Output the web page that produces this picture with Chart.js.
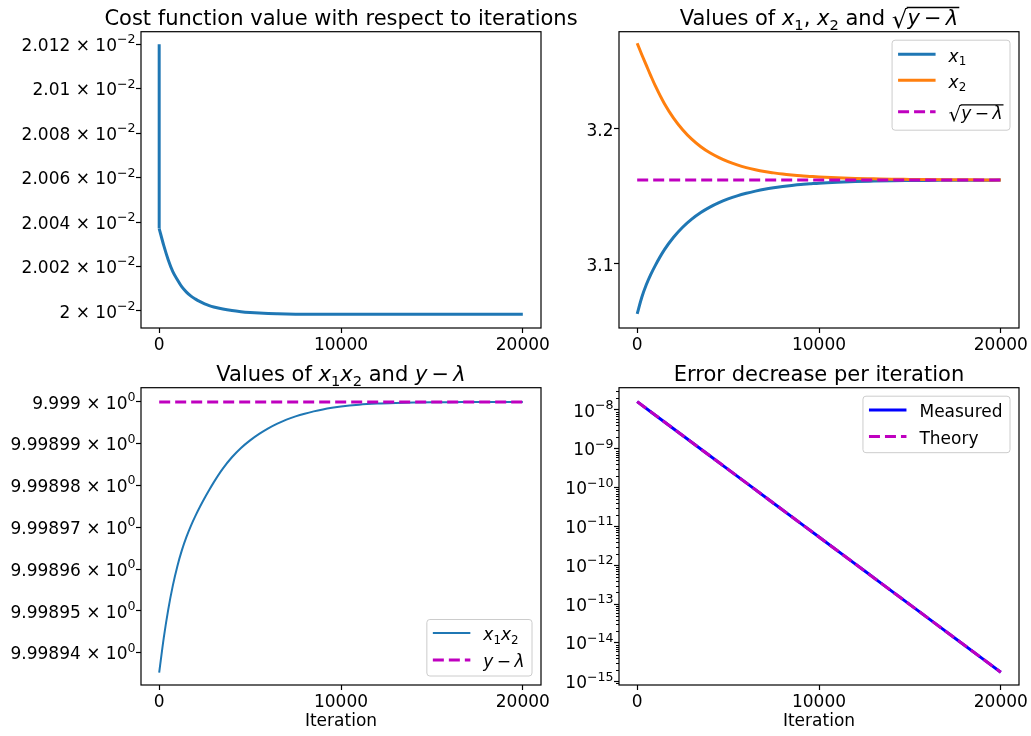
<!DOCTYPE html>
<html lang="en">
<head>
<meta charset="UTF-8">
<title>Convergence plots</title>
<style>
    body {
        margin: 0;
        background: #fff;
        width: 1031px;
        height: 736px;
        position: relative;
        overflow: hidden;
    }
    canvas {
        position: absolute;
    }
</style>
<script src="https://cdn.jsdelivr.net/npm/chart.js"></script>
</head>
<body>

<canvas id="costChart" width="620" height="360" style="left:0;top:0"></canvas>
<canvas id="xChart" width="491" height="360" style="left:540px;top:0"></canvas>
<canvas id="prodChart" width="600" height="376" style="left:0;top:360px"></canvas>
<canvas id="errChart" width="491" height="376" style="left:540px;top:360px"></canvas>

<script>
    // ---- data ----
    const xTicks = [0, 10000, 20000];

    // cost function: one big drop at the first step, then a smooth decay
    const costDropIters = [0, 0];
    const costDropValues = [0.02012000, 0.02003708];
    const costIters = [0, 250, 500, 750, 1000, 1250, 1500, 1750, 2000, 2250, 2500, 2750, 3000,
                       3500, 4000, 4500, 5000, 5500, 6000, 6500, 7000, 7500, 8000, 10000, 12000, 14000, 16000, 18000, 20000];
    const costValues = [0.02003708, 0.02002954, 0.02002298, 0.02001771, 0.02001407, 0.02001081, 0.02000848, 0.02000667,
                        0.02000533, 0.02000420, 0.02000321, 0.02000244, 0.02000182, 0.02000087, 0.02000018, 0.01999969,
                        0.01999933, 0.01999905, 0.01999885, 0.01999872, 0.01999862, 0.01999856, 0.01999853, 0.01999850,
                        0.01999850, 0.01999850, 0.01999850, 0.01999850, 0.01999850];
    const costTicks = [0.02000, 0.02002, 0.02004, 0.02006, 0.02008, 0.02010, 0.02012];
    const costTickLabels = ['2 × 10^−2', '2.002 × 10^−2', '2.004 × 10^−2', '2.006 × 10^−2',
                            '2.008 × 10^−2', '2.01 × 10^−2', '2.012 × 10^−2'];

    // x1, x2 and their common limit
    const iters = [0, 250, 500, 750, 1000, 1500, 2000, 2500, 3000, 3500, 4000, 4500, 5000, 5500, 6000, 6500, 7000, 7500, 8000,
                   8500, 9000, 9500, 10000, 11000, 12000, 13000, 14000, 15000, 16000, 17000, 18000, 19000, 20000];
    const x1Values = [3.0630, 3.0752, 3.0846, 3.0923, 3.0990, 3.1106, 3.1198, 3.1272, 3.1332, 3.1381, 3.1421, 3.1454,
                      3.1482, 3.1505, 3.1524, 3.1540, 3.1554, 3.1565, 3.1574, 3.1582, 3.1589, 3.1594, 3.1599,
                      3.1606, 3.1611, 3.1614, 3.16165, 3.1618, 3.16193, 3.1620, 3.16207, 3.1621, 3.16214];
    const x2Values = [3.2635, 3.2552, 3.2473, 3.2394, 3.2319, 3.2187, 3.2081, 3.1995, 3.1925, 3.1869, 3.1824, 3.1788,
                      3.1758, 3.1734, 3.1714, 3.1698, 3.1685, 3.1675, 3.1666, 3.1659, 3.1653, 3.1649, 3.1645,
                      3.1639, 3.1634, 3.1631, 3.1628, 3.16265, 3.1625, 3.1624, 3.16235, 3.1623, 3.16227];
    const limitIters = [0, 20000];
    const sqrtValues = [3.1622, 3.1622];
    const xTicksY = [3.1, 3.2];
    const xTickLabelsY = ['3.1', '3.2'];

    // x1 * x2 against y - lambda
    const prodIters = [0, 250, 500, 750, 1000, 1250, 1500, 1750, 2000, 2250, 2500, 2750, 3000, 3500, 4000, 4500, 5000,
                       5500, 6000, 6500, 7000, 7500, 8000, 8500, 9000, 9500, 10000, 11000, 12000, 13000, 14000, 15000,
                       16000, 17000, 18000, 19000, 20000];
    const prodValues = [9.99893525, 9.99894350, 9.99895038, 9.99895606, 9.99896072, 9.99896455, 9.99896772, 9.99897042,
                        9.99897280, 9.99897497, 9.99897701, 9.99897893, 9.99898076, 9.99898404, 9.99898676, 9.99898899,
                        9.99899081, 9.99899236, 9.99899369, 9.99899482, 9.99899577, 9.99899654, 9.99899719, 9.99899774,
                        9.99899820, 9.99899859, 9.99899892, 9.99899935, 9.99899960, 9.99899975, 9.99899985, 9.99899991,
                        9.99899994, 9.99899996, 9.99899998, 9.99899999, 9.99900000];
    const targetValues = [9.999, 9.999];
    const prodTicks = [9.99894, 9.99895, 9.99896, 9.99897, 9.99898, 9.99899, 9.99900];
    const prodTickLabels = ['9.99894 × 10^0', '9.99895 × 10^0', '9.99896 × 10^0', '9.99897 × 10^0',
                            '9.99898 × 10^0', '9.99899 × 10^0', '9.999 × 10^0'];

    // error per iteration, log scale
    const errIters = [0, 2500, 5000, 7500, 10000, 12500, 15000, 17500, 20000];
    const measuredValues = [1.64e-8, 2.20e-9, 2.96e-10, 3.97e-11, 5.35e-12, 7.19e-13, 9.66e-14, 1.30e-14, 1.75e-15];
    const theoryValues = [1.64e-8, 2.20e-9, 2.96e-10, 3.97e-11, 5.35e-12, 7.19e-13, 9.66e-14, 1.30e-14, 1.75e-15];
    const errTicks = [1e-15, 1e-14, 1e-13, 1e-12, 1e-11, 1e-10, 1e-9, 1e-8];
    const errTickLabels = ['10^−15', '10^−14', '10^−13', '10^−12', '10^−11', '10^−10', '10^−9', '10^−8'];

    const BLUE = '#1f77b4', ORANGE = '#ff7f0e', MAGENTA = '#bf00bf', PURE_BLUE = '#0000ff';
    const FONT = '"DejaVu Sans", sans-serif';
    const TICK_SIZE = 17;

    Chart.defaults.font.family = FONT;
    Chart.defaults.font.size = TICK_SIZE;
    Chart.defaults.color = '#000';

    const pts = (xs, ys) => xs.map((x, i) => ({x: x, y: ys[i]}));

    // ---- rich text (italic, subscripts, superscripts, square root) ----
    const sub = t => ({t: t, sub: true});
    const it = t => ({t: t, it: true});
    function segFont(s, size) {
        const sz = s.sub ? size * 0.7 : (s.sup ? size * 0.74 : (s.rad ? size * 1.18 : size));
        return (s.it ? 'oblique ' : '') + sz + 'px ' + FONT;
    }
    function richWidth(ctx, segs, size) {
        let w = 0;
        segs.forEach(s => {
            ctx.font = segFont(s, size);
            w += ctx.measureText(s.rad ? '√' : s.t).width;
        });
        return w;
    }
    function drawRich(ctx, segs, x, y, size, align) {
        const w = richWidth(ctx, segs, size);
        let cx = align === 'center' ? x - w / 2 : (align === 'right' ? x - w : x);
        let ovStart = null, ovEnd = null, ovY = null;
        ctx.fillStyle = '#000';
        ctx.textBaseline = 'alphabetic';
        ctx.textAlign = 'left';
        segs.forEach(s => {
            ctx.font = segFont(s, size);
            if (s.rad) {
                const m = ctx.measureText('√');
                const by = y + size * 0.12;
                ctx.fillText('√', cx, by);
                ovY = by - m.actualBoundingBoxAscent + 0.8;
                ovStart = cx + m.width - 0.8;
                cx += m.width;
                return;
            }
            const m = ctx.measureText(s.t);
            const dy = s.sub ? size * 0.22 : (s.sup ? -size * 0.45 : 0);
            ctx.fillText(s.t, cx, y + dy);
            cx += m.width;
            if (s.ov) ovEnd = cx + 1;
        });
        if (ovStart !== null) {
            ctx.beginPath();
            ctx.lineWidth = size * 0.065;
            ctx.strokeStyle = '#000';
            ctx.moveTo(ovStart, ovY);
            ctx.lineTo(ovEnd, ovY);
            ctx.stroke();
        }
    }
    // '2.012 × 10^−2' -> main text plus superscript
    function tickSegs(label) {
        const parts = label.split('^');
        const segs = [{t: parts[0]}];
        if (parts.length > 1) segs.push({t: parts[1], sup: true});
        return segs;
    }
    const radical = [{rad: true}, {t: 'y', it: true, ov: true}, {t: '\u2009\u2212\u2009', ov: true}, {t: 'λ', it: true, ov: true}];

    // ---- titles, tick labels and legends per chart ----
    const deco = {
        costChart: {
            title: [{t: 'Cost function value with respect to iterations'}],
            yTicks: costTicks, yLabels: costTickLabels
        },
        xChart: {
            title: [{t: 'Values of '}, it('x'), sub('1'), {t: ', '}, it('x'), sub('2'), {t: ' and '}].concat(radical),
            yTicks: xTicksY, yLabels: xTickLabelsY,
            legend: {
                loc: 'upper right', height: 90, centers: [14, 40, 71.5],
                items: [
                    {label: [it('x'), sub('1')], color: BLUE, width: 3},
                    {label: [it('x'), sub('2')], color: ORANGE, width: 3},
                    {label: radical, color: MAGENTA, width: 3, dash: [11, 5]}
                ]
            }
        },
        prodChart: {
            title: [{t: 'Values of '}, it('x'), sub('1'), it('x'), sub('2'), {t: ' and '}, it('y'), {t: '\u2009\u2212\u2009'}, it('λ')],
            yTicks: prodTicks, yLabels: prodTickLabels,
            legend: {
                loc: 'lower right', height: 56.5, centers: [13.5, 40.5],
                items: [
                    {label: [it('x'), sub('1'), it('x'), sub('2')], color: BLUE, width: 2},
                    {label: [it('y'), {t: '\u2009\u2212\u2009'}, it('λ')], color: MAGENTA, width: 3, dash: [11, 5]}
                ]
            }
        },
        errChart: {
            title: [{t: 'Error decrease per iteration'}],
            yTicks: errTicks, yLabels: errTickLabels,
            legend: {
                loc: 'upper right', height: 56.5, centers: [13.7, 40.4],
                items: [
                    {label: [{t: 'Measured'}], color: PURE_BLUE, width: 3},
                    {label: [{t: 'Theory'}], color: MAGENTA, width: 3, dash: [11, 5]}
                ]
            }
        }
    };

    const decoPlugin = {
        id: 'deco',
        afterDraw(chart) {
            const d = deco[chart.canvas.id];
            if (!d) return;
            const ctx = chart.ctx;
            const a = chart.chartArea;
            const ys = chart.scales.y;
            ctx.save();

            // minor ticks on the log axis
            if (ys.type === 'logarithmic') {
                ctx.strokeStyle = '#000';
                ctx.lineWidth = 1;
                for (let e = -16; e <= -7; e++) {
                    for (let k = 2; k <= 9; k++) {
                        const v = k * Math.pow(10, e);
                        if (v < ys.min || v > ys.max) continue;
                        const py = Math.round(ys.getPixelForValue(v)) + 0.5;
                        ctx.beginPath();
                        ctx.moveTo(a.left - 3, py);
                        ctx.lineTo(a.left, py);
                        ctx.stroke();
                    }
                }
            }

            // y tick labels with real superscripts
            d.yTicks.forEach((v, i) => {
                const py = ys.getPixelForValue(v);
                drawRich(ctx, tickSegs(d.yLabels[i]), a.left - 5.5, py + 6.6, TICK_SIZE, 'right');
            });

            // frame
            ctx.strokeStyle = '#000';
            ctx.lineWidth = 1.2;
            ctx.strokeRect(a.left, a.top, a.right - a.left, a.bottom - a.top);

            // title
            drawRich(ctx, d.title, (a.left + a.right) / 2, a.top - 6.5, 21, 'center');

            // legend
            const lg = d.legend;
            if (lg) {
                let tw = 0;
                lg.items.forEach(item => { tw = Math.max(tw, richWidth(ctx, item.label, TICK_SIZE)); });
                const bw = 56.5 + tw + 7.5;
                const bx = a.right - 9 - bw;
                const by = lg.loc === 'upper right' ? a.top + 8.5 : a.bottom - 9 - lg.height;
                ctx.beginPath();
                ctx.roundRect(bx, by, bw, lg.height, 3);
                ctx.fillStyle = 'rgba(255,255,255,0.8)';
                ctx.fill();
                ctx.strokeStyle = '#cccccc';
                ctx.lineWidth = 1;
                ctx.stroke();
                lg.items.forEach((item, i) => {
                    const cy = by + lg.centers[i];
                    ctx.beginPath();
                    ctx.strokeStyle = item.color;
                    ctx.lineWidth = item.width;
                    ctx.setLineDash(item.dash || []);
                    ctx.moveTo(bx + 6, cy);
                    ctx.lineTo(bx + 43.5, cy);
                    ctx.stroke();
                    ctx.setLineDash([]);
                    drawRich(ctx, item.label, bx + 56.5, cy + 7.3, TICK_SIZE, 'left');
                });
            }
            ctx.restore();
        }
    };
    Chart.register(decoPlugin);

    // ---- shared axis setup ----
    function xAxis(height, withTitle) {
        return {
            type: 'linear',
            min: -1000,
            max: 21000,
            afterBuildTicks: s => { s.ticks = xTicks.map(v => ({value: v})); },
            afterFit: s => { s.height = height; s.paddingLeft = 0; s.paddingRight = 0; },
            ticks: {
                padding: 2,
                maxRotation: 0,
                autoSkip: false,
                callback: v => String(v)
            },
            grid: {drawOnChartArea: false, drawTicks: true, tickLength: 5, tickWidth: 1.2, tickColor: '#000'},
            border: {display: false},
            title: {
                display: withTitle,
                text: 'Iteration',
                font: {size: TICK_SIZE},
                padding: {top: 0, bottom: 4}
            }
        };
    }
    function yAxis(type, min, max, tickValues, width) {
        return {
            type: type,
            min: min,
            max: max,
            afterBuildTicks: s => { s.ticks = tickValues.map(v => ({value: v})); },
            afterFit: s => { s.width = width; s.paddingTop = 0; s.paddingBottom = 0; },
            ticks: {
                padding: 3,
                autoSkip: false,
                color: 'rgba(0,0,0,0)',
                callback: () => ''
            },
            grid: {drawOnChartArea: false, drawTicks: true, tickLength: 5, tickWidth: 1.2, tickColor: '#000'},
            border: {display: false}
        };
    }
    function baseOptions(padTop, padRight, x, y) {
        return {
            responsive: false,
            animation: false,
            devicePixelRatio: 1,
            layout: {padding: {top: padTop, right: padRight, left: 0, bottom: 0}},
            elements: {point: {radius: 0}, line: {cubicInterpolationMode: 'monotone', borderCapStyle: 'butt'}},
            plugins: {legend: {display: false}, title: {display: false}, tooltip: {enabled: false}},
            scales: {x: x, y: y}
        };
    }

    // ---- cost function ----
    new Chart(document.getElementById('costChart'), {
        type: 'line',
        data: {
            datasets: [
                {data: pts(costDropIters, costDropValues), borderColor: BLUE, borderWidth: 3, cubicInterpolationMode: 'default', tension: 0},
                {data: pts(costIters, costValues), borderColor: BLUE, borderWidth: 3}
            ]
        },
        options: baseOptions(31.7, 79, xAxis(32, false),
            yAxis('linear', 0.01999235, 0.02012567, costTicks, 141))
    });

    // ---- x1, x2 and sqrt(y - lambda) ----
    new Chart(document.getElementById('xChart'), {
        type: 'line',
        data: {
            datasets: [
                {label: 'x1', data: pts(iters, x1Values), borderColor: BLUE, borderWidth: 3, order: 3},
                {label: 'x2', data: pts(iters, x2Values), borderColor: ORANGE, borderWidth: 3, order: 2},
                {label: 'sqrt(y - lambda)', data: pts(limitIters, sqrtValues), borderColor: MAGENTA, borderWidth: 3, borderDash: [11, 5], order: 1}
            ]
        },
        options: baseOptions(31.7, 12, xAxis(32, false),
            yAxis('linear', 3.05259, 3.27207, xTicksY, 79))
    });

    // ---- x1 x2 and y - lambda ----
    new Chart(document.getElementById('prodChart'), {
        type: 'line',
        data: {
            datasets: [
                {label: 'x1x2', data: pts(prodIters, prodValues), borderColor: BLUE, borderWidth: 2, order: 2},
                {label: 'y - lambda', data: pts(limitIters, targetValues), borderColor: MAGENTA, borderWidth: 3, borderDash: [11, 5], order: 1}
            ]
        },
        options: baseOptions(27.7, 59, xAxis(51, true),
            yAxis('linear', 9.9989323, 9.9990034, prodTicks, 141))
    });

    // ---- error per iteration (log) ----
    new Chart(document.getElementById('errChart'), {
        type: 'line',
        data: {
            datasets: [
                {label: 'Measured', data: pts(errIters, measuredValues), borderColor: PURE_BLUE, borderWidth: 3, order: 2},
                {label: 'Theory', data: pts(errIters, theoryValues), borderColor: MAGENTA, borderWidth: 3, borderDash: [11, 5], order: 1}
            ]
        },
        options: baseOptions(27.7, 12, xAxis(51, true),
            yAxis('logarithmic', 8.22e-16, 3.754e-8, errTicks, 79))
    });
</script>

</body>
</html>
